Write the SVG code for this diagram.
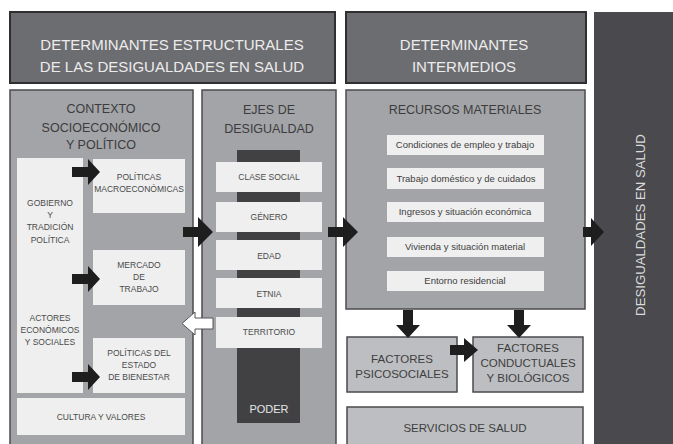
<svg xmlns="http://www.w3.org/2000/svg" width="673" height="444" viewBox="0 0 673 444">
<defs>
<style>
text{font-family:"Liberation Sans","Open Sans",Arial,sans-serif;text-anchor:middle}
.hdr{fill:#6c6d71;stroke:#2f2f31;stroke-width:2}
.hdrt{fill:#ececec;font-size:15px}
.pan{fill:#a3a4a7;stroke:#4b4b4e;stroke-width:1.5}
.pt{fill:#3c3c3e;font-size:12.5px}
.wb{fill:#efefef}
.st{fill:#4a4a4a;font-size:8.5px}
.rt{fill:#3e3e3e;font-size:9.5px}
.bar{fill:#414144}
.fac{fill:#bdbec1;stroke:#4b4b4e;stroke-width:1.5}
.ft{fill:#3e3e40;font-size:11.5px}
.arr{fill:#1e1e1e}
</style>
</defs>
<rect width="673" height="444" fill="#ffffff"/>

<g id="hdr-estructurales">
<rect class="hdr" x="10" y="12" width="325" height="71"/>
<text class="hdrt" x="172" y="50">DETERMINANTES ESTRUCTURALES</text>
<text class="hdrt" x="172" y="72">DE LAS DESIGUALDADES EN SALUD</text>
</g>

<g id="hdr-intermedios">
<rect class="hdr" x="346" y="12" width="240" height="71"/>
<text class="hdrt" x="464" y="50">DETERMINANTES</text>
<text class="hdrt" x="464" y="72">INTERMEDIOS</text>
</g>

<g id="desigualdades-salud">
<rect x="594" y="12" width="80" height="434" fill="#4a4a4e"/>
<text transform="translate(640,225) rotate(-90)" fill="#dcdcdc" font-size="13.2" y="4.5">DESIGUALDADES EN SALUD</text>
</g>

<g id="contexto">
<rect class="pan" x="10" y="90" width="183" height="360"/>
<text class="pt" x="101" y="113">CONTEXTO</text>
<text class="pt" x="101" y="132">SOCIOECONÓMICO</text>
<text class="pt" x="101" y="149">Y POLÍTICO</text>
</g>

<g id="gobierno">
<rect class="wb" x="17" y="158" width="66" height="235"/>
<text class="st" x="50" y="206">GOBIERNO</text>
<text class="st" x="50" y="218">Y</text>
<text class="st" x="50" y="230">TRADICIÓN</text>
<text class="st" x="50" y="243">POLÍTICA</text>
<text class="st" x="50" y="321">ACTORES</text>
<text class="st" x="50" y="333">ECONÓMICOS</text>
<text class="st" x="50" y="345">Y SOCIALES</text>
</g>

<g id="politicas-macro">
<rect class="wb" x="93" y="159" width="92" height="54"/>
<text class="st" x="139" y="180">POLÍTICAS</text>
<text class="st" x="139" y="192">MACROECONÓMICAS</text>
</g>

<g id="mercado">
<rect class="wb" x="93" y="250" width="92" height="55"/>
<text class="st" x="139" y="268">MERCADO</text>
<text class="st" x="139" y="280">DE</text>
<text class="st" x="139" y="292">TRABAJO</text>
</g>

<g id="bienestar">
<rect class="wb" x="93" y="338" width="92" height="55"/>
<text class="st" x="139" y="356">POLÍTICAS DEL</text>
<text class="st" x="139" y="368">ESTADO</text>
<text class="st" x="139" y="380">DE BIENESTAR</text>
</g>

<g id="cultura">
<rect class="wb" x="17" y="398" width="168" height="37"/>
<text class="st" x="101" y="420">CULTURA Y VALORES</text>
</g>

<g id="ejes">
<rect class="pan" x="202" y="90" width="134" height="360"/>
<text class="pt" x="269" y="114">EJES DE</text>
<text class="pt" x="269" y="133">DESIGUALDAD</text>
<rect class="bar" x="237" y="150" width="63" height="273"/>
<text x="269" y="413" fill="#e6e6e6" font-size="11">PODER</text>
</g>
<g id="clase"><rect class="wb" x="216" y="162" width="106" height="30"/><text class="st" x="269" y="180">CLASE SOCIAL</text></g>
<g id="genero"><rect class="wb" x="216" y="202" width="106" height="30"/><text class="st" x="269" y="220">GÉNERO</text></g>
<g id="edad"><rect class="wb" x="216" y="240" width="106" height="30"/><text class="st" x="269" y="259">EDAD</text></g>
<g id="etnia"><rect class="wb" x="216" y="278" width="106" height="30"/><text class="st" x="269" y="297">ETNIA</text></g>
<g id="territorio"><rect class="wb" x="216" y="317" width="106" height="31"/><text class="st" x="269" y="335">TERRITORIO</text></g>

<g id="recursos">
<rect class="pan" x="346" y="90" width="239" height="219"/>
<text class="pt" x="465" y="114" font-size="12">RECURSOS MATERIALES</text>
<rect class="wb" x="387" y="135" width="157" height="20"/>
<text class="rt" x="465" y="148">Condiciones de empleo y trabajo</text>
<rect class="wb" x="387" y="168" width="157" height="21"/>
<text class="rt" x="466" y="182">Trabajo doméstico y de cuidados</text>
<rect class="wb" x="387" y="202" width="157" height="20"/>
<text class="rt" x="465" y="215">Ingresos y situación económica</text>
<rect class="wb" x="387" y="237" width="157" height="20"/>
<text class="rt" x="465" y="250">Vivienda y situación material</text>
<rect class="wb" x="387" y="271" width="157" height="20"/>
<text class="rt" x="465" y="284">Entorno residencial</text>
</g>

<g id="psicosociales">
<rect class="fac" x="347" y="337" width="110" height="55"/>
<text class="ft" x="402" y="363">FACTORES</text>
<text class="ft" x="402" y="378">PSICOSOCIALES</text>
</g>

<g id="conductuales">
<rect class="fac" x="473" y="337" width="110" height="55"/>
<text class="ft" x="528" y="352">FACTORES</text>
<text class="ft" x="528" y="367">CONDUCTUALES</text>
<text class="ft" x="528" y="382">Y BIOLÓGICOS</text>
</g>

<g id="servicios">
<rect class="fac" x="347" y="407" width="236" height="45" fill="#c4c5c8"/>
<text class="ft" x="465" y="432" font-size="11">SERVICIOS DE SALUD</text>
</g>

<g id="connectors">
<path class="arr" d="M72,167 h16 v-8 l12,13 l-12,13 v-8 h-16 z"/>
<path class="arr" d="M72,274 h16 v-8 l12,13 l-12,13 v-8 h-16 z"/>
<path class="arr" d="M72,372 h16 v-8 l12,13 l-12,13 v-8 h-16 z"/>
<path class="arr" d="M183,227 h15 v-10 l15,15 l-15,15 v-10 h-15 z"/>
<path class="arr" d="M328,227 h15 v-10 l15,15 l-15,15 v-10 h-15 z"/>
<path class="arr" d="M583,227 h8 v-9 l13,14 l-13,14 v-9 h-8 z"/>
<path d="M213,318 h-18 v-6 l-13,11.5 l13,11.5 v-6 h18 z" fill="#ffffff" stroke="#555" stroke-width="1"/>
<path class="arr" d="M403,310 h10 v15 h7 l-12,13 l-12,-13 h7 z"/>
<path class="arr" d="M514,310 h10 v15 h7 l-12,13 l-12,-13 h7 z"/>
<path class="arr" d="M450,345 h14 v-7 l14,12 l-14,12 v-7 h-14 z"/>
</g>
</svg>
